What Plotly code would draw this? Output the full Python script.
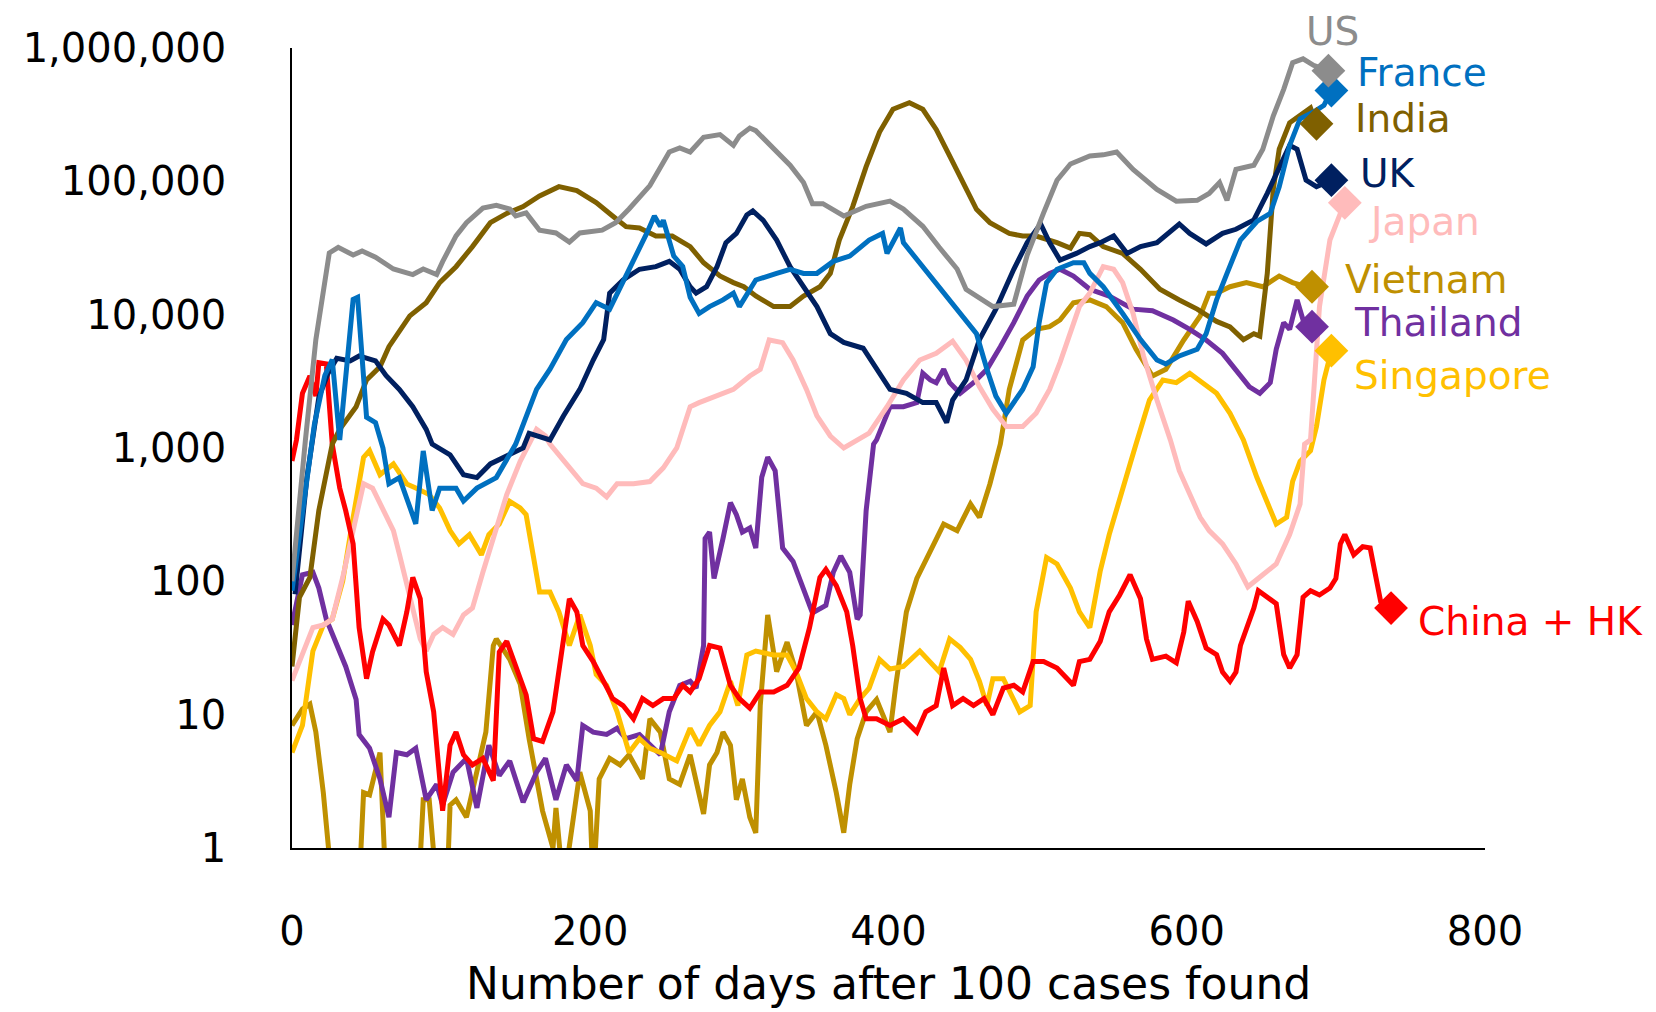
import math
import plotly.graph_objects as go

# ---------------- data (7-day average new cases) ----------------
us_days = [0, 5, 9, 16, 21, 25, 31, 41, 47, 56, 68, 81, 88, 97, 101, 110, 117, 128, 137, 146, 150, 157, 166, 177, 186, 193, 208, 217, 226, 240, 253, 260, 267, 276, 287, 296, 300, 307, 311, 325, 334, 343, 349, 356, 370, 385, 401, 410, 423, 434, 446, 452, 461, 470, 484, 493, 504, 513, 522, 535, 544, 553, 564, 580, 593, 607, 615, 622, 627, 633, 645, 651, 658, 665, 671, 678, 685, 695]
us_cases = [100, 400, 1150, 6500, 15500, 29000, 32000, 28000, 30000, 27000, 22000, 20000, 22000, 20000, 25000, 39000, 49000, 63000, 66000, 62000, 55000, 58000, 43000, 41000, 35000, 41000, 43000, 49000, 62000, 93000, 166000, 178000, 166000, 214000, 224000, 186000, 219000, 251000, 240000, 166000, 132000, 98000, 68000, 68000, 55000, 65000, 71000, 62000, 46000, 32000, 22000, 15500, 13500, 11500, 12000, 28000, 58000, 102000, 135000, 155000, 158000, 166000, 123000, 87000, 71000, 72000, 81000, 98000, 72000, 123000, 132000, 174000, 309000, 490000, 776000, 830000, 741000, 676000]

france_days = [0, 8, 15, 22, 27, 32, 41, 44, 50, 56, 61, 65, 72, 83, 88, 94, 99, 110, 115, 124, 137, 150, 164, 173, 184, 195, 204, 213, 222, 231, 238, 243, 247, 249, 256, 262, 267, 273, 280, 289, 296, 300, 311, 325, 334, 343, 352, 363, 374, 387, 396, 399, 408, 410, 423, 437, 450, 459, 466, 472, 479, 484, 490, 497, 501, 506, 513, 524, 531, 535, 544, 557, 569, 580, 586, 595, 607, 613, 620, 627, 636, 647, 656, 662, 669, 676, 685, 692, 697]
france_cases = [85, 400, 1500, 3500, 4600, 1150, 13000, 13500, 1700, 1550, 1000, 540, 600, 270, 950, 340, 500, 500, 400, 500, 600, 1070, 2750, 3900, 6500, 8700, 12300, 11000, 17400, 27500, 41000, 55000, 46000, 51000, 27500, 23000, 13500, 10200, 11500, 12900, 14500, 11500, 18200, 20400, 21900, 20400, 20400, 25100, 27500, 36300, 40700, 28800, 44700, 34700, 22900, 14500, 9800, 7200, 3900, 2450, 1820, 2190, 2750, 4070, 8700, 17400, 21900, 24500, 24500, 20400, 16200, 10200, 6500, 4570, 4270, 4900, 5500, 7200, 12900, 20400, 36300, 50000, 57500, 91000, 186000, 295000, 331000, 372000, 480000]

india_days = [0, 5, 12, 18, 27, 32, 43, 50, 59, 65, 79, 90, 99, 110, 121, 133, 144, 155, 166, 179, 191, 204, 215, 224, 233, 244, 255, 267, 276, 287, 296, 303, 311, 323, 334, 343, 354, 361, 367, 376, 385, 394, 403, 414, 423, 432, 441, 450, 459, 468, 481, 490, 499, 513, 522, 528, 535, 544, 557, 569, 582, 595, 607, 620, 629, 638, 645, 649, 654, 658, 662, 669, 676, 683, 687]
india_cases = [23, 76, 107, 340, 1070, 1380, 2040, 3240, 4070, 5750, 9800, 12300, 17400, 22900, 32400, 49000, 57500, 64600, 77600, 91200, 85100, 69200, 55000, 45700, 44700, 38900, 38900, 32400, 24500, 19500, 17400, 16200, 13800, 11500, 11500, 13800, 16200, 20400, 36300, 64600, 129000, 234000, 347000, 389000, 347000, 245000, 155000, 98000, 61700, 49000, 40700, 38900, 38900, 34700, 31600, 40700, 39800, 32400, 28800, 21900, 15500, 12900, 11000, 8900, 8100, 6500, 7200, 6900, 20400, 87000, 174000, 275000, 316000, 355000, 270000]

uk_days = [2, 10, 18, 24, 30, 39, 45, 56, 63, 72, 81, 90, 94, 106, 115, 124, 133, 146, 155, 159, 173, 182, 193, 202, 209, 213, 222, 233, 244, 253, 260, 267, 271, 278, 285, 291, 298, 305, 309, 316, 325, 334, 343, 352, 361, 370, 383, 392, 401, 412, 423, 432, 439, 443, 452, 461, 472, 484, 493, 502, 508, 515, 526, 535, 542, 551, 560, 569, 580, 595, 602, 613, 624, 633, 645, 654, 662, 669, 674, 680, 687, 697]
uk_cases = [80, 600, 2400, 3600, 4700, 4500, 4900, 4500, 3500, 2750, 2040, 1380, 1070, 890, 630, 600, 760, 890, 1000, 1290, 1150, 1740, 2750, 4570, 6500, 14500, 18200, 21900, 22900, 25100, 21900, 16200, 14500, 16200, 22900, 34700, 40700, 56000, 60000, 51000, 36300, 22900, 16200, 11500, 7200, 6200, 5600, 3900, 2750, 2570, 2190, 2190, 1550, 2290, 3240, 6500, 11000, 21900, 34700, 47900, 34700, 25700, 28800, 32400, 34700, 38900, 28800, 32400, 34700, 47900, 40700, 33900, 40700, 43700, 51300, 81300, 129000, 186000, 174000, 102000, 91200, 102000]

japan_days = [0, 7, 14, 21, 27, 34, 41, 48, 54, 61, 68, 72, 79, 86, 90, 95, 101, 108, 115, 121, 128, 135, 144, 153, 159, 164, 170, 173, 184, 195, 204, 211, 218, 229, 240, 249, 258, 267, 273, 285, 296, 307, 314, 320, 329, 336, 345, 352, 361, 370, 387, 399, 410, 421, 432, 443, 452, 461, 470, 479, 490, 499, 508, 515, 522, 528, 535, 544, 551, 557, 564, 571, 580, 589, 595, 602, 609, 615, 624, 633, 641, 651, 660, 669, 676, 679, 683, 689, 696, 703, 706]
japan_cases = [18, 28, 45, 47, 52, 107, 250, 540, 500, 340, 240, 160, 76, 37, 30, 40, 45, 40, 56, 63, 117, 214, 447, 794, 1070, 1380, 1230, 1070, 760, 540, 500, 430, 540, 540, 560, 710, 1000, 2040, 2190, 2450, 2750, 3470, 3890, 6460, 6170, 4570, 2750, 1740, 1230, 1000, 1290, 2040, 3240, 4570, 5130, 6310, 4570, 2880, 1950, 1450, 1450, 1820, 2750, 4370, 7240, 11500, 14500, 22900, 21900, 17400, 10200, 4900, 2290, 1150, 676, 447, 302, 240, 191, 135, 91, 112, 135, 224, 380, 1070, 1150, 11500, 36300, 57500, 69000]

vietnam_days = [0, 7, 12, 16, 21, 27, 45, 48, 52, 59, 63, 85, 88, 92, 97, 104, 106, 110, 117, 124, 130, 135, 137, 146, 153, 159, 164, 168, 175, 177, 182, 193, 200, 202, 206, 213, 220, 226, 235, 240, 247, 253, 260, 267, 276, 280, 285, 289, 294, 298, 302, 307, 311, 314, 319, 325, 332, 338, 345, 352, 358, 365, 370, 374, 379, 385, 392, 401, 405, 412, 419, 428, 437, 446, 455, 461, 468, 475, 481, 490, 499, 508, 515, 524, 535, 546, 557, 566, 577, 586, 598, 609, 615, 620, 629, 640, 651, 662, 671, 680, 684]
vietnam_cases = [8.3, 11, 12, 7.4, 2.6, 0.5, 0.5, 2.6, 2.5, 5.2, 0.5, 0.5, 2.3, 2.3, 0.5, 0.5, 2.1, 2.3, 1.7, 3.7, 7.4, 33, 37, 26, 17, 6.6, 3.3, 1.9, 1.0, 2.0, 0.5, 3.7, 1.9, 0.5, 3.3, 4.7, 4.2, 5.0, 3.3, 9.3, 7.4, 3.3, 3.0, 5.0, 1.8, 4.2, 5.2, 7.4, 5.9, 2.3, 3.3, 1.7, 1.3, 11.7, 56, 21, 35, 21, 8.3, 10.5, 5.9, 2.6, 1.3, 3.0, 6.6, 10.5, 13, 7.4, 17, 59, 105, 170, 269, 240, 380, 302, 537, 1070, 2750, 6460, 7760, 8130, 9120, 12300, 12900, 11500, 8710, 5500, 3470, 3890, 6460, 9770, 14500, 14500, 16200, 17400, 16200, 19500, 17400, 16200, 16200]

thailand_days = [0, 7, 14, 18, 23, 30, 36, 43, 45, 52, 59, 65, 70, 77, 83, 90, 97, 101, 108, 117, 124, 132, 139, 146, 155, 164, 170, 177, 184, 191, 195, 202, 211, 218, 224, 233, 240, 247, 253, 260, 267, 271, 276, 277, 280, 283, 289, 294, 298, 302, 307, 311, 315, 319, 324, 329, 336, 343, 349, 358, 363, 368, 374, 379, 381, 385, 390, 392, 401, 410, 419, 423, 428, 432, 437, 441, 448, 457, 466, 475, 484, 493, 501, 508, 515, 524, 535, 548, 564, 577, 591, 602, 613, 624, 633, 642, 649, 656, 660, 665, 669, 674, 678, 684]
thailand_cases = [47, 112, 117, 89, 52, 33, 23, 13, 7.1, 5.6, 3.3, 1.7, 5.2, 5.0, 5.6, 2.3, 3.0, 2.1, 3.7, 4.7, 2.0, 5.9, 3.5, 4.5, 2.2, 3.7, 4.7, 2.3, 4.2, 3.2, 8.3, 7.4, 7.1, 7.9, 6.6, 7.1, 5.9, 5.0, 10.5, 16.6, 17.8, 15.8, 33, 209, 234, 105, 209, 389, 316, 234, 251, 178, 603, 851, 676, 178, 141, 89, 58, 66, 117, 155, 117, 52, 56, 339, 1070, 1150, 2040, 2040, 2190, 3630, 3240, 3090, 3890, 3090, 2570, 3090, 3890, 5750, 8710, 13800, 18200, 20400, 21900, 19500, 15500, 13800, 11000, 10700, 9120, 7760, 6460, 5130, 3890, 2880, 2570, 3090, 5500, 8710, 7760, 12900, 9120, 8130]

singapore_days = [0, 7, 14, 21, 27, 34, 41, 48, 52, 59, 68, 77, 83, 92, 99, 106, 112, 119, 127, 132, 139, 146, 153, 157, 162, 166, 173, 179, 186, 193, 200, 204, 211, 218, 222, 226, 233, 240, 247, 258, 267, 273, 280, 287, 294, 299, 305, 311, 323, 332, 338, 345, 352, 358, 365, 370, 374, 381, 387, 394, 401, 410, 421, 428, 434, 441, 448, 455, 461, 466, 470, 477, 484, 488, 495, 499, 506, 513, 522, 528, 535, 542, 548, 555, 562, 566, 575, 584, 593, 602, 611, 620, 629, 638, 647, 654, 660, 667, 671, 676, 683, 687, 692, 697]
singapore_cases = [5.2, 8.3, 30, 47, 52, 100, 302, 851, 955, 631, 759, 537, 501, 447, 355, 240, 191, 224, 158, 224, 269, 398, 355, 316, 151, 83, 83, 59, 33, 56, 33, 20, 16.6, 10.5, 7.4, 5.2, 6.6, 5.6, 5.2, 4.5, 7.9, 5.9, 8.3, 10.5, 17.8, 11.7, 28, 30, 28, 28, 21, 13.2, 10.5, 9.3, 14.1, 13.2, 10, 13.2, 15.8, 26, 22, 23, 30, 25, 21, 37, 32, 26, 17.8, 11.7, 18.6, 18.6, 13.2, 10.5, 11.7, 59, 151, 135, 89, 59, 45, 120, 224, 398, 759, 1070, 2290, 3240, 3090, 3630, 3090, 2570, 1820, 1150, 603, 398, 269, 302, 562, 794, 955, 1450, 3240, 5370]

china_days = [0, 3, 7, 12, 16, 18, 23, 27, 32, 36, 41, 45, 50, 54, 61, 65, 72, 77, 81, 86, 90, 95, 101, 106, 110, 115, 121, 128, 135, 139, 144, 150, 157, 162, 168, 175, 182, 186, 191, 195, 202, 209, 215, 222, 229, 235, 242, 249, 256, 262, 267, 273, 280, 287, 294, 300, 307, 314, 323, 332, 340, 347, 354, 358, 365, 372, 376, 381, 385, 392, 401, 410, 419, 425, 432, 437, 443, 450, 457, 464, 470, 477, 484, 490, 497, 504, 513, 524, 528, 535, 542, 548, 555, 562, 569, 573, 577, 586, 593, 598, 601, 607, 613, 620, 624, 629, 633, 636, 640, 645, 648, 654, 660, 665, 669, 674, 678, 683, 689, 696, 700, 703, 706, 712, 718, 723, 727, 730, 737]
china_cases = [800, 1150, 2570, 3470, 2450, 4370, 4270, 1070, 501, 339, 191, 45, 18.6, 29.5, 52, 47, 33, 59, 107, 74, 21, 10.5, 1.9, 5.9, 7.4, 5.0, 4.2, 4.7, 3.2, 29.5, 35.5, 23.4, 14.1, 6.6, 6.3, 10.5, 37, 74, 59, 33, 25, 17.8, 13.2, 11.7, 9.3, 13.2, 11.7, 13.2, 13.2, 16.6, 14.8, 18.6, 33, 31.6, 16.6, 13.2, 11.2, 14.8, 14.8, 16.6, 22.4, 44.7, 107, 123, 93, 59, 33, 13.2, 9.3, 9.3, 8.3, 9.3, 7.4, 10.5, 11.7, 22.4, 11.7, 13.2, 11.7, 13.2, 10, 15.8, 16.6, 14.8, 25, 25, 22.4, 16.6, 25, 26, 35.5, 59, 79, 112, 74, 37, 26, 27.5, 24.5, 41.7, 71, 50, 31.6, 28.2, 20.9, 17.8, 20.9, 33, 44.7, 63, 85, 76, 68, 28.2, 22.4, 28.2, 76, 85, 79, 89, 105, 191, 224, 158, 182, 178, 105, 71, 63]

x_ticks = [0, 200, 400, 600, 800]
y_ticks = [1, 10, 100, 1000, 10000, 100000, 1000000]
y_tick_text = ["1", "10", "100", "1,000", "10,000", "100,000", "1,000,000"]

# ---------------- styling ----------------
series = [
    ("Vietnam", vietnam_days, vietnam_cases, "#BF9000"),
    ("Thailand", thailand_days, thailand_cases, "#7030A0"),
    ("Singapore", singapore_days, singapore_cases, "#FFC000"),
    ("Japan", japan_days, japan_cases, "#FFBBBB"),
    ("China + HK", china_days, china_cases, "#FF0000"),
    ("India", india_days, india_cases, "#7F6000"),
    ("UK", uk_days, uk_cases, "#002060"),
    ("France", france_days, france_cases, "#0070C0"),
    ("US", us_days, us_cases, "#8C8C8C"),
]

# label placement: (day, cases or paper-y, x-anchor, y-ref)
label_pos = {
    "US": (698, 1.02, "center", "paper"),
    "France": (713, 650000, "left", "y"),
    "India": (711.5, 295000, "left", "y"),
    "UK": (715, 115000, "left", "y"),
    "Japan": (720, 50000, "left", "y"),
    "Vietnam": (705, 18500, "left", "y"),
    "Thailand": (711, 8700, "left", "y"),
    "Singapore": (711, 3470, "left", "y"),
    "China + HK": (754, 50, "left", "y"),
}

FONT = "DejaVu Sans"
LABEL_SIZE = 39
TICK_SIZE = 40
TITLE_SIZE = 44

fig = go.Figure()

for name, d, c, col in series:
    fig.add_trace(go.Scatter(x=d, y=c, mode="lines", name=name,
                             line=dict(color=col, width=5), showlegend=False,
                             hoverinfo="skip"))

for name, d, c, col in series:
    fig.add_trace(go.Scatter(x=[d[-1]], y=[c[-1]], mode="markers", name=name,
                             marker=dict(symbol="diamond", size=26, color=col),
                             showlegend=False, cliponaxis=False))
    lx, ly, anc, yr = label_pos[name]
    yy = ly if yr == "paper" else math.log10(ly)
    fig.add_annotation(x=lx, y=yy, xref="x", yref=yr,
                       text=name, showarrow=False, xanchor=anc, yanchor="middle",
                       font=dict(family=FONT, size=LABEL_SIZE, color=col))

fig.add_annotation(x=0.5, y=-0.169, xref="paper", yref="paper",
                   text="Number of days after 100 cases found", showarrow=False,
                   xanchor="center", yanchor="middle",
                   font=dict(family=FONT, size=TITLE_SIZE, color="black"))

# page body has an 8px default margin, so the figure is sized to fit the window
fig.update_layout(
    width=1648, height=1004,
    margin=dict(l=284, r=171, t=40, b=164),
    paper_bgcolor="white", plot_bgcolor="white",
    font=dict(family=FONT, size=TICK_SIZE, color="black"),
    showlegend=False,
)
fig.update_xaxes(range=[0, 800], tickvals=x_ticks, showgrid=False, zeroline=False,
                 showline=True, linecolor="black", linewidth=1.5, automargin=False,
                 ticks="outside", ticklen=47, tickcolor="rgba(0,0,0,0)",
                 tickfont=dict(family=FONT, size=TICK_SIZE, color="black"))
fig.update_yaxes(type="log", range=[0, 6], tickvals=y_ticks, ticktext=y_tick_text,
                 showgrid=False, zeroline=False, automargin=False,
                 showline=True, linecolor="black", linewidth=1.5,
                 ticks="outside", ticklen=56, tickcolor="rgba(0,0,0,0)",
                 tickfont=dict(family=FONT, size=TICK_SIZE, color="black"))

fig.write_html("out.html")
